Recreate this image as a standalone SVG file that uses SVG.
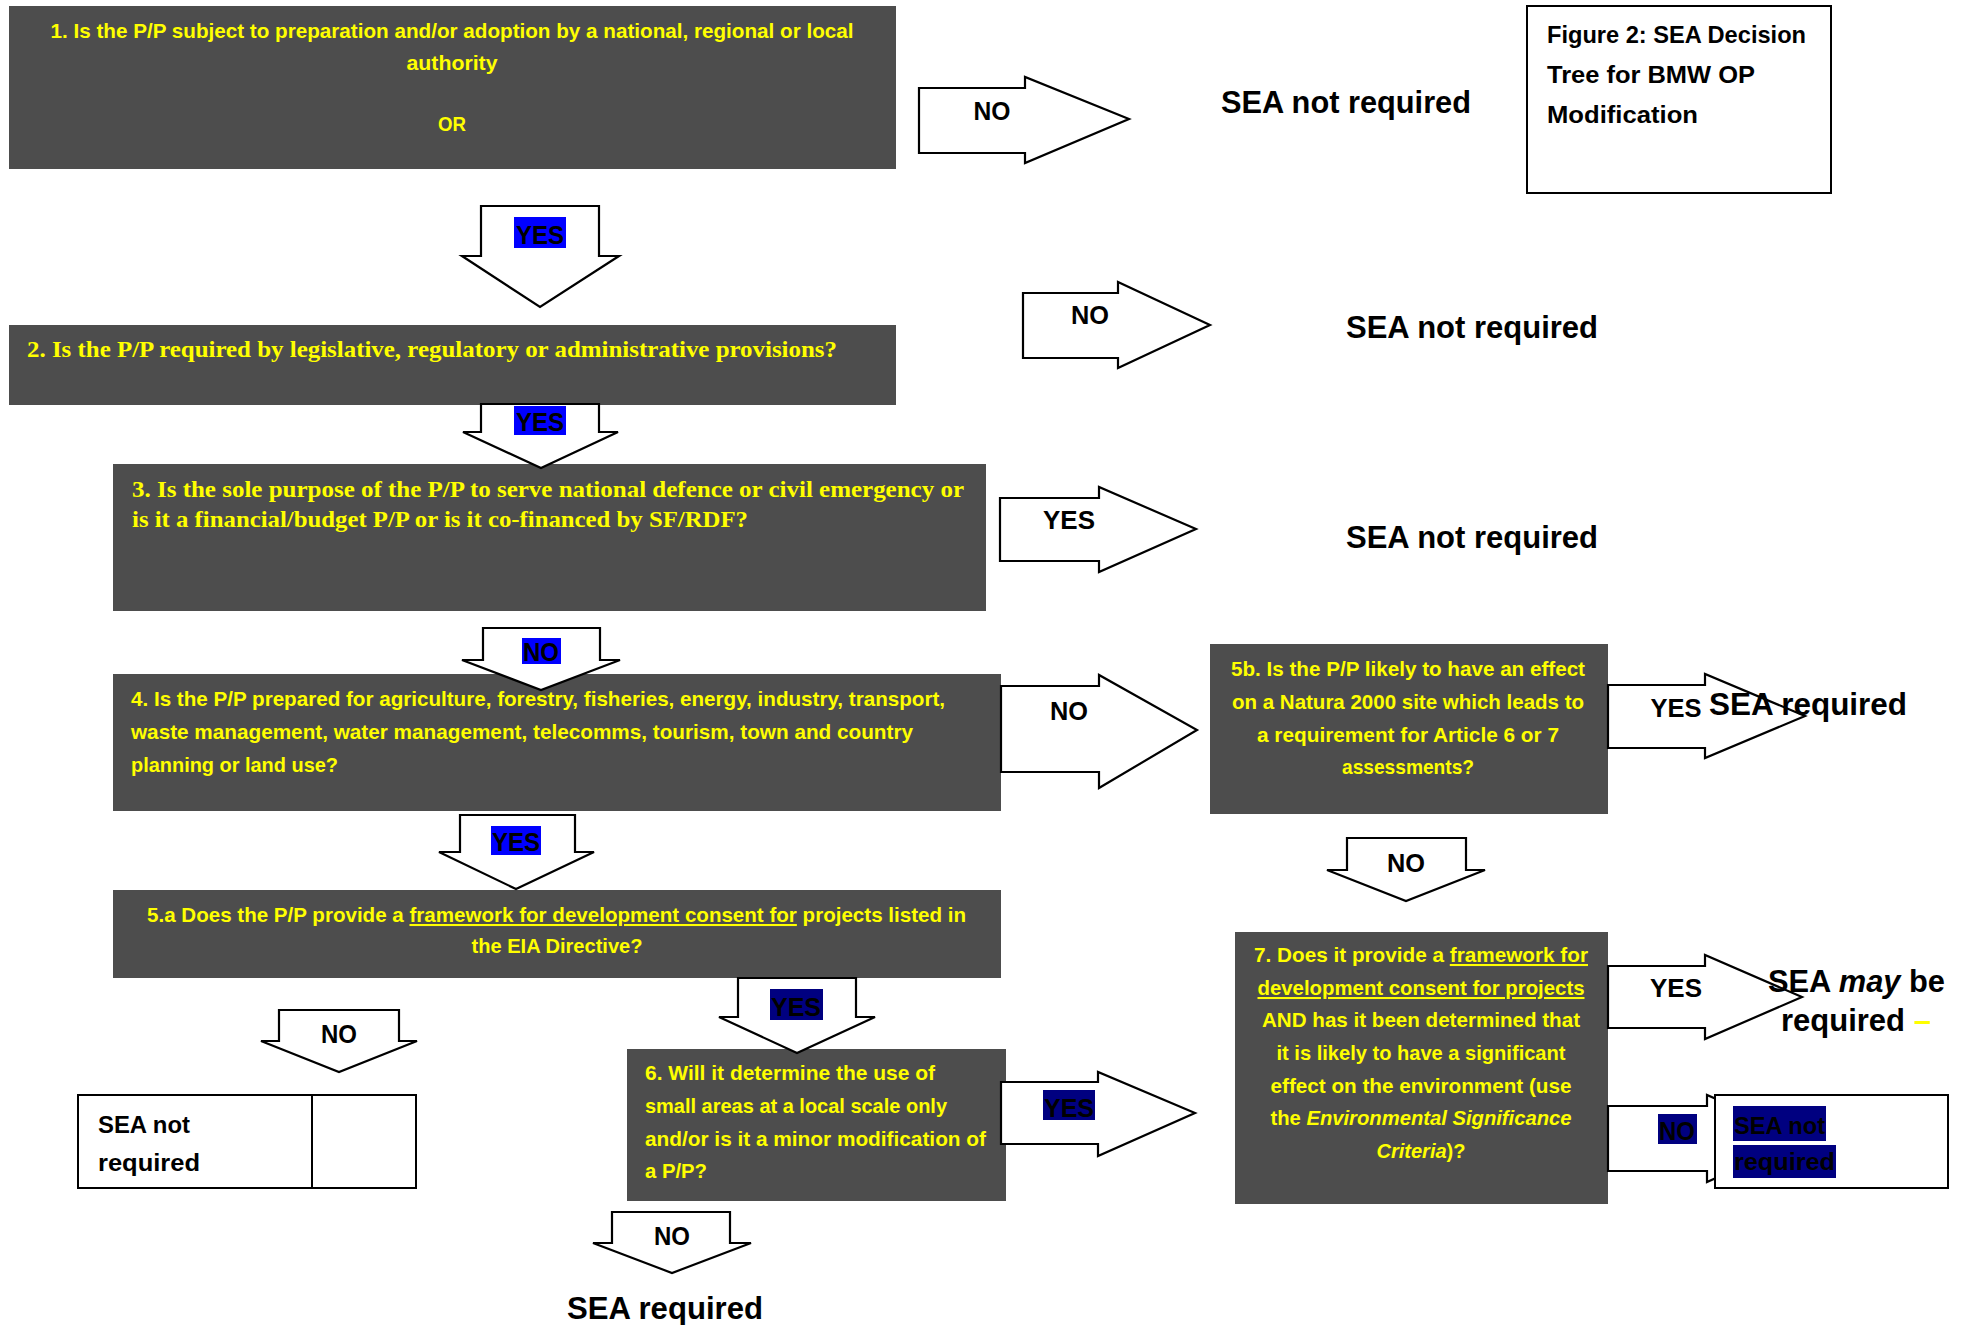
<svg xmlns="http://www.w3.org/2000/svg" width="1974" height="1325" viewBox="0 0 1974 1325">
<style>
.box{fill:#4d4d4d}
.q{font-family:"Liberation Sans",Arial,sans-serif;font-weight:bold;font-size:20.5px;fill:#ffff00}
.qs{font-family:"Liberation Serif","Times New Roman",serif;font-weight:bold;font-size:22.5px;fill:#ffff00}
.arr{fill:#fff;stroke:#000;stroke-width:2.2;stroke-linejoin:miter}
.lbl{font-family:"Liberation Sans",Arial,sans-serif;font-weight:bold;font-size:25px;fill:#000}
.res{font-family:"Liberation Sans",Arial,sans-serif;font-weight:bold;font-size:31px;fill:#000}
.cal{font-family:"Liberation Sans",Arial,sans-serif;font-weight:bold;font-size:24px;fill:#000}
.hb{fill:#0000ff}
.hn{fill:#000080}
.u{text-decoration:underline}
.i{font-style:italic}
.outline{fill:#fff;stroke:#000;stroke-width:2}
</style>

<g id="q1">
<rect class="box" x="9" y="6" width="887" height="163"/>
<text class="q" x="452" y="38" text-anchor="middle" textLength="803" lengthAdjust="spacingAndGlyphs">1. Is the P/P subject to preparation and/or adoption by a national, regional or local</text>
<text class="q" x="452" y="70" text-anchor="middle" textLength="91" lengthAdjust="spacingAndGlyphs">authority</text>
<text class="q" x="452" y="131" text-anchor="middle" textLength="28" lengthAdjust="spacingAndGlyphs">OR</text>
</g>

<g id="figure-title">
<rect class="outline" x="1527" y="6" width="304" height="187"/>
<text class="cal" x="1547" y="43" textLength="259" lengthAdjust="spacingAndGlyphs">Figure 2: SEA Decision</text>
<text class="cal" x="1547" y="83" textLength="208" lengthAdjust="spacingAndGlyphs">Tree for BMW OP</text>
<text class="cal" x="1547" y="123" textLength="151" lengthAdjust="spacingAndGlyphs">Modification</text>
</g>

<g id="q2">
<rect class="box" x="9" y="325" width="887" height="80"/>
<text class="qs" x="27" y="357" textLength="810" lengthAdjust="spacingAndGlyphs">2. Is the P/P required by legislative, regulatory or administrative provisions?</text>
</g>

<g id="q3">
<rect class="box" x="113" y="464" width="873" height="147"/>
<text class="qs" x="132" y="497" textLength="832" lengthAdjust="spacingAndGlyphs">3. Is the sole purpose of the P/P to serve national defence or civil emergency or</text>
<text class="qs" x="132" y="527" textLength="616" lengthAdjust="spacingAndGlyphs">is it a financial/budget P/P or is it co-financed by SF/RDF?</text>
</g>

<g id="q4">
<rect class="box" x="113" y="674" width="888" height="137"/>
<text class="q" x="131" y="706" textLength="814" lengthAdjust="spacingAndGlyphs">4. Is the P/P prepared for agriculture, forestry, fisheries, energy, industry, transport,</text>
<text class="q" x="131" y="739" textLength="782" lengthAdjust="spacingAndGlyphs">waste management, water management, telecomms, tourism, town and country</text>
<text class="q" x="131" y="772" textLength="207" lengthAdjust="spacingAndGlyphs">planning or land use?</text>
</g>

<g id="q5b">
<rect class="box" x="1210" y="644" width="398" height="170"/>
<text class="q" x="1408" y="676" text-anchor="middle" textLength="354" lengthAdjust="spacingAndGlyphs">5b. Is the P/P likely to have an effect</text>
<text class="q" x="1408" y="709" text-anchor="middle" textLength="352" lengthAdjust="spacingAndGlyphs">on a Natura 2000 site which leads to</text>
<text class="q" x="1408" y="742" text-anchor="middle" textLength="302" lengthAdjust="spacingAndGlyphs">a requirement for Article 6 or 7</text>
<text class="q" x="1408" y="774" text-anchor="middle" textLength="132" lengthAdjust="spacingAndGlyphs">assessments?</text>
</g>

<g id="q5a">
<rect class="box" x="113" y="890" width="888" height="88"/>
<text class="q" x="147" y="922" textLength="819" lengthAdjust="spacingAndGlyphs">5.a Does the P/P provide a <tspan class="u">framework for development consent for</tspan> projects listed in</text>
<text class="q" x="557" y="953" text-anchor="middle" textLength="171" lengthAdjust="spacingAndGlyphs">the EIA Directive?</text>
</g>

<g id="q6">
<rect class="box" x="627" y="1049" width="379" height="152"/>
<text class="q" x="645" y="1080" textLength="290" lengthAdjust="spacingAndGlyphs">6. Will it determine the use of</text>
<text class="q" x="645" y="1113" textLength="302" lengthAdjust="spacingAndGlyphs">small areas at a local scale only</text>
<text class="q" x="645" y="1146" textLength="341" lengthAdjust="spacingAndGlyphs">and/or is it a minor modification of</text>
<text class="q" x="645" y="1178" textLength="62" lengthAdjust="spacingAndGlyphs">a P/P?</text>
</g>

<g id="q7">
<rect class="box" x="1235" y="932" width="373" height="272"/>
<text class="q" x="1421" y="962" text-anchor="middle" textLength="334" lengthAdjust="spacingAndGlyphs">7. Does it provide a <tspan class="u">framework for</tspan></text>
<text class="q u" x="1421" y="995" text-anchor="middle" textLength="327" lengthAdjust="spacingAndGlyphs">development consent for projects</text>
<text class="q" x="1421" y="1027" text-anchor="middle" textLength="318" lengthAdjust="spacingAndGlyphs">AND has it been determined that</text>
<text class="q" x="1421" y="1060" text-anchor="middle" textLength="289" lengthAdjust="spacingAndGlyphs">it is likely to have a significant</text>
<text class="q" x="1421" y="1093" text-anchor="middle" textLength="301" lengthAdjust="spacingAndGlyphs">effect on the environment (use</text>
<text class="q" x="1421" y="1125" text-anchor="middle" textLength="301" lengthAdjust="spacingAndGlyphs">the <tspan class="i">Environmental Significance</tspan></text>
<text class="q" x="1421" y="1158" text-anchor="middle" textLength="89" lengthAdjust="spacingAndGlyphs"><tspan class="i">Criteria</tspan>)?</text>
</g>

<g id="connectors">
<path class="arr" d="M481,206 H599 V256 H619 L540,307 L462,256 H481 Z"/>
<rect class="hb" x="514" y="217" width="52" height="31"/>
<text class="lbl" x="540" y="244" text-anchor="middle" textLength="48" lengthAdjust="spacingAndGlyphs">YES</text>

<path class="arr" d="M481,404 H599 V432 H618 L541,468 L463,432 H481 Z"/>
<rect class="hb" x="514" y="406" width="52" height="29"/>
<text class="lbl" x="540" y="431" text-anchor="middle" textLength="48" lengthAdjust="spacingAndGlyphs">YES</text>

<path class="arr" d="M483,628 H600 V660 H620 L541,690 L462,660 H483 Z"/>
<rect class="hb" x="522" y="638" width="39" height="26"/>
<text class="lbl" x="541" y="661" text-anchor="middle" textLength="36" lengthAdjust="spacingAndGlyphs">NO</text>

<path class="arr" d="M460,815 H575 V852 H594 L516,889 L439,852 H460 Z"/>
<rect class="hb" x="491" y="826" width="50" height="29"/>
<text class="lbl" x="516" y="851" text-anchor="middle" textLength="48" lengthAdjust="spacingAndGlyphs">YES</text>

<path class="arr" d="M1347,838 H1466 V870 H1485 L1406,901 L1327,870 H1347 Z"/>
<text class="lbl" x="1406" y="872" text-anchor="middle" textLength="38" lengthAdjust="spacingAndGlyphs">NO</text>

<path class="arr" d="M279,1010 H399 V1041 H417 L339,1072 L261,1041 H279 Z"/>
<text class="lbl" x="339" y="1043" text-anchor="middle" textLength="36" lengthAdjust="spacingAndGlyphs">NO</text>

<path class="arr" d="M738,978 H856 V1017 H875 L797,1053 L719,1017 H738 Z"/>
<rect class="hn" x="770" y="989" width="53" height="31"/>
<text class="lbl" x="796" y="1016" text-anchor="middle" textLength="50" lengthAdjust="spacingAndGlyphs">YES</text>

<path class="arr" d="M612,1212 H730 V1243 H751 L672,1273 L593,1243 H612 Z"/>
<text class="lbl" x="672" y="1245" text-anchor="middle" textLength="36" lengthAdjust="spacingAndGlyphs">NO</text>

<path class="arr" d="M919,88 H1025 V77 L1129,119 L1025,163 V153 H919 Z"/>
<text class="lbl" x="992" y="120" text-anchor="middle" textLength="37" lengthAdjust="spacingAndGlyphs">NO</text>

<path class="arr" d="M1023,293 H1118 V282 L1210,325 L1118,368 V358 H1023 Z"/>
<text class="lbl" x="1090" y="324" text-anchor="middle" textLength="38" lengthAdjust="spacingAndGlyphs">NO</text>

<path class="arr" d="M1000,498 H1099 V487 L1196,529 L1099,572 V561 H1000 Z"/>
<text class="lbl" x="1069" y="529" text-anchor="middle" textLength="52" lengthAdjust="spacingAndGlyphs">YES</text>

<path class="arr" d="M1001,686 H1099 V675 L1197,730 L1099,788 V772 H1001 Z"/>
<text class="lbl" x="1069" y="720" text-anchor="middle" textLength="38" lengthAdjust="spacingAndGlyphs">NO</text>

<path class="arr" d="M1608,685 H1705 V674 L1805,716 L1705,758 V748 H1608 Z"/>
<text class="lbl" x="1676" y="717" text-anchor="middle" textLength="51" lengthAdjust="spacingAndGlyphs">YES</text>

<path class="arr" d="M1608,966 H1705 V955 L1802,997 L1705,1039 V1028 H1608 Z"/>
<text class="lbl" x="1676" y="997" text-anchor="middle" textLength="52" lengthAdjust="spacingAndGlyphs">YES</text>

<path class="arr" d="M1608,1106 H1707 V1095 L1805,1138 L1707,1182 V1171 H1608 Z"/>
<rect class="hn" x="1658" y="1114" width="39" height="30"/>
<text class="lbl" x="1677" y="1140" text-anchor="middle" textLength="36" lengthAdjust="spacingAndGlyphs">NO</text>

<path class="arr" d="M1001,1082 H1098 V1072 L1195,1113 L1098,1156 V1144 H1001 Z"/>
<rect class="hn" x="1043" y="1090" width="52" height="30"/>
<text class="lbl" x="1069" y="1117" text-anchor="middle" textLength="50" lengthAdjust="spacingAndGlyphs">YES</text>
</g>

<g id="r1"><text class="res" x="1221" y="113" textLength="250" lengthAdjust="spacingAndGlyphs">SEA not required</text></g>
<g id="r2"><text class="res" x="1346" y="338" textLength="252" lengthAdjust="spacingAndGlyphs">SEA not required</text></g>
<g id="r3"><text class="res" x="1346" y="548" textLength="252" lengthAdjust="spacingAndGlyphs">SEA not required</text></g>
<g id="r5b"><text class="res" x="1709" y="715" textLength="198" lengthAdjust="spacingAndGlyphs">SEA required</text></g>
<g id="r7yes">
<text class="res" x="1768" y="992" textLength="177" lengthAdjust="spacingAndGlyphs">SEA <tspan class="i">may</tspan> be</text>
<text class="res" x="1781" y="1031">required <tspan fill="#ffff00">–</tspan></text>
</g>
<g id="r7no">
<rect class="outline" x="1715" y="1095" width="233" height="93"/>
<rect class="hn" x="1733" y="1106" width="93" height="35"/>
<rect class="hn" x="1733" y="1145" width="103" height="33"/>
<text class="cal" x="1734" y="1134" font-size="25" textLength="91" lengthAdjust="spacingAndGlyphs">SEA not</text>
<text class="cal" x="1734" y="1170" font-size="25" textLength="101" lengthAdjust="spacingAndGlyphs">required</text>
</g>
<g id="r5a">
<rect class="outline" x="78" y="1095" width="338" height="93"/>
<line x1="312" y1="1095" x2="312" y2="1188" stroke="#000" stroke-width="2"/>
<text class="cal" x="98" y="1133" textLength="92" lengthAdjust="spacingAndGlyphs">SEA not</text>
<text class="cal" x="98" y="1171" textLength="102" lengthAdjust="spacingAndGlyphs">required</text>
</g>
<g id="r6"><text class="res" x="567" y="1319" textLength="196" lengthAdjust="spacingAndGlyphs">SEA required</text></g>
</svg>
